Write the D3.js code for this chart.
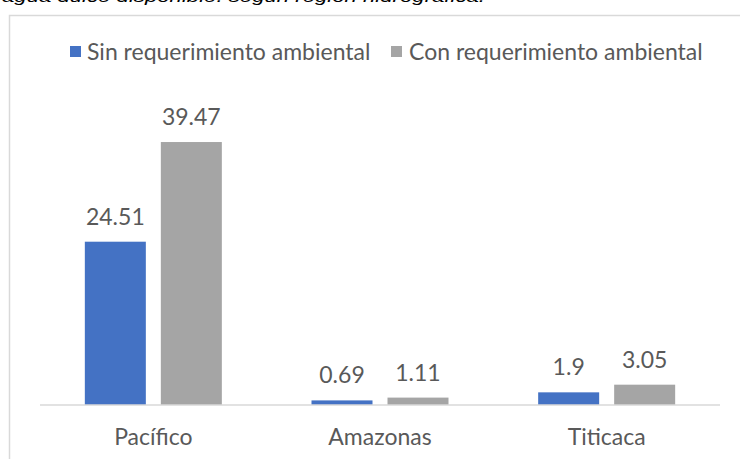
<!DOCTYPE html>
<html>
<head>
<meta charset="utf-8">
<script src="https://cdn.jsdelivr.net/npm/d3@7"></script>
<style>
  html, body { margin: 0; padding: 0; background: #fff; }
  svg { display: block; }
</style>
</head>
<body>
<svg id="chart" width="740" height="459"></svg>
<script>
// Regiones hidrográficas y disponibilidad de agua por serie
const categories = ["Pacífico", "Amazonas", "Titicaca"];
const seriesNames = ["Sin requerimiento ambiental", "Con requerimiento ambiental"];
const sinRequerimiento = [24.51, 0.69, 1.9];
const conRequerimiento = [39.47, 1.11, 3.05];
const seriesValues = [sinRequerimiento, conRequerimiento];
const seriesColors = ["#4472C4", "#A5A5A5"];

const svg = d3.select("#chart");
const font = "Lato, 'Open Sans', sans-serif";
const fontSize = 23;

// Título recortado en el borde superior
svg.append("text")
  .attr("x", 2).attr("y", 2)
  .attr("font-family", "'Liberation Sans', Arial, sans-serif")
  .attr("font-style", "italic")
  .attr("font-size", 17)
  .attr("fill", "#000")
  .attr("textLength", 483)
  .attr("lengthAdjust", "spacingAndGlyphs")
  .text("agua dulce disponible: según región hidrográfica.");

// Marco del área del gráfico
svg.append("rect")
  .attr("x", 9.5).attr("y", 15.5)
  .attr("width", 760).attr("height", 480)
  .attr("fill", "#fff")
  .attr("stroke", "#d9d9d9")
  .attr("stroke-width", 1.5);

const baseY = 405;
const x0 = d3.scaleBand().domain(categories).range([40, 720]);
const x1 = d3.scaleBand().domain(d3.range(seriesNames.length))
  .range([-68.5, 68.5]).paddingInner(15 / 76);
const y = d3.scaleLinear().domain([0, 40]).range([baseY, 138.5]);

// Barras
const groups = svg.append("g").selectAll("g")
  .data(categories)
  .join("g")
  .attr("transform", c => `translate(${x0(c) + x0.bandwidth() / 2},0)`);

groups.selectAll("rect")
  .data((c, i) => seriesValues.map((vals, s) => ({ s, v: vals[i] })))
  .join("rect")
  .attr("x", d => x1(d.s))
  .attr("width", x1.bandwidth())
  .attr("y", d => y(d.v))
  .attr("height", d => baseY - y(d.v))
  .attr("fill", d => seriesColors[d.s]);

// Etiquetas de valor
groups.selectAll("text.val")
  .data((c, i) => seriesValues.map((vals, s) => ({ s, v: vals[i] })))
  .join("text")
  .attr("class", "val")
  .attr("x", d => x1(d.s) + x1.bandwidth() / 2)
  .attr("y", d => y(d.v) - 17)
  .attr("text-anchor", "middle")
  .attr("font-family", font)
  .attr("font-size", fontSize)
  .attr("fill", "#595959")
  .text(d => d.v);

// Eje horizontal
const xAxis = svg.append("g")
  .attr("transform", `translate(0,${baseY})`)
  .call(d3.axisBottom(x0).tickSize(0));
xAxis.select(".domain").attr("stroke", "#d9d9d9").attr("stroke-width", 1.5)
  .attr("d", "M40,0H720");
xAxis.selectAll("text")
  .attr("y", 40)
  .attr("dy", 0)
  .attr("font-family", font)
  .attr("font-size", fontSize)
  .attr("fill", "#595959");

// Leyenda
const legendItems = [
  { name: seriesNames[0], color: seriesColors[0], sx: 70, tx: 87 },
  { name: seriesNames[1], color: seriesColors[1], sx: 391, tx: 409 }
];
const legend = svg.append("g");
legendItems.forEach(it => {
  legend.append("rect")
    .attr("x", it.sx).attr("y", 46)
    .attr("width", 11).attr("height", 11)
    .attr("fill", it.color);
  legend.append("text")
    .attr("x", it.tx).attr("y", 60)
    .attr("font-family", font)
    .attr("font-size", fontSize)
    .attr("fill", "#595959")
    .text(it.name);
});
</script>
</body>
</html>
